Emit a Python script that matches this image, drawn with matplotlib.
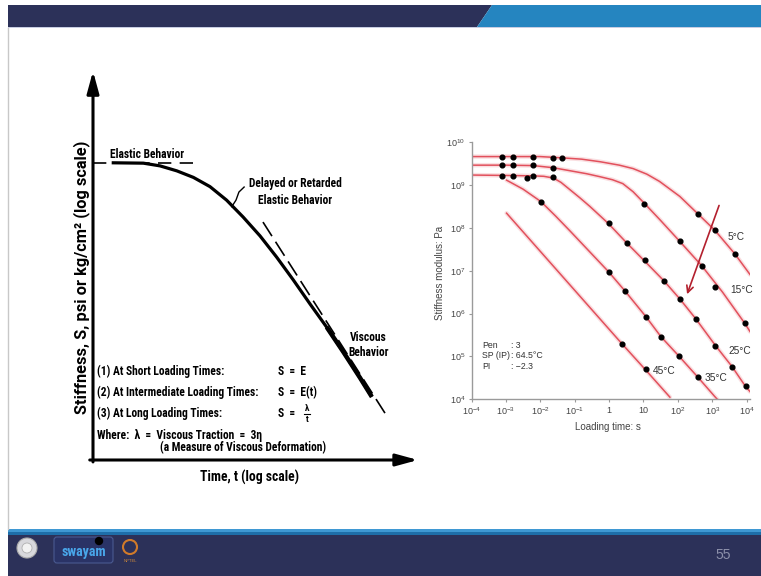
import numpy as np
import matplotlib
matplotlib.use("Agg")
import matplotlib.pyplot as plt
from matplotlib import font_manager
from matplotlib.patches import Rectangle, Polygon, Circle, FancyBboxPatch
from matplotlib.ticker import NullLocator

# ---- left schematic (arbitrary units: 0-100 on both axes) ----
curve_x = [5.75, 15.5, 20.6, 25.8, 30.9, 36.0, 41.1, 46.2, 51.4, 56.5, 61.6, 66.8, 71.9, 77.0, 82.2, 85.8]
curve_y = [77.2, 77.1, 76.4, 75.1, 73.4, 71.0, 67.5, 63.1, 58.2, 52.7, 46.8, 40.5, 34.5, 28.1, 21.3, 16.4]
elastic_x = [0, 31.9]
elastic_y = [77.2, 77.2]
viscous_x = [52.3, 90.2]
viscous_y = [61.8, 11.7]
leader_x = [42.7, 44.0, 44.9, 46.5]
leader_y = [65.8, 67.5, 69.6, 70.9]

# ---- right chart: log10(loading time s), log10(stiffness Pa) ----
curves = {
    "5": ([-4.05, -3.0, -2.0, -1.36, -0.8, -0.26, 0.3, 0.70, 1.1, 1.47, 2.06, 2.59, 3.08, 3.66, 4.10],
          [9.66, 9.66, 9.66, 9.63, 9.60, 9.54, 9.46, 9.38, 9.25, 9.08, 8.73, 8.32, 7.94, 7.39, 6.91]),
    "15": ([-4.05, -3.0, -2.2, -1.62, -0.65, -0.26, 0.1, 0.4, 0.7, 1.04, 1.5, 2.06, 2.69, 3.3, 3.95, 4.10],
           [9.46, 9.46, 9.45, 9.40, 9.26, 9.19, 9.12, 9.03, 8.84, 8.56, 8.17, 7.68, 7.12, 6.50, 5.77, 5.58]),
    "25": ([-4.05, -3.0, -2.2, -1.9, -1.62, -1.4, -1.14, -0.85, -0.56, -0.02, 0.51, 1.04, 1.60, 2.06, 2.53,
            3.08, 3.58, 3.97, 4.10],
           [9.23, 9.22, 9.21, 9.20, 9.16, 9.06, 8.89, 8.70, 8.50, 8.10, 7.65, 7.22, 6.76, 6.34, 5.87,
            5.27, 4.76, 4.30, 4.18]),
    "35": ([-2.98, -2.5, -1.98, -1.55, -1.14, -0.02, 0.46, 1.07, 1.51, 2.03, 2.59, 3.08, 3.15],
           [9.11, 8.90, 8.61, 8.27, 7.93, 6.98, 6.53, 5.93, 5.46, 5.01, 4.51, 4.06, 4.00]),
    "45": ([-2.98, 0.37, 1.07, 1.77],
           [8.34, 5.30, 4.68, 4.05]),
}
dots_t = [-3.12, -2.80, -2.20, -1.62, -1.36, 2.59, 3.08, 3.66,
          -3.12, -2.80, -2.20, -1.62, 1.02, 2.06, 2.69, 3.08, 3.95,
          -3.12, -2.80, -2.38, -2.20, -1.62, 0.01, 0.51, 1.04, 1.60, 2.06, 2.53, 3.08, 3.58, 3.97,
          -1.98, 0.0, 0.46, 1.07, 1.51, 2.03, 2.59,
          0.37, 1.07]
dots_s = [9.66, 9.66, 9.66, 9.62, 9.62, 8.32, 7.94, 7.39,
          9.46, 9.46, 9.46, 9.39, 8.55, 7.68, 7.12, 6.63, 5.77,
          9.21, 9.21, 9.15, 9.21, 9.18, 8.10, 7.65, 7.24, 6.76, 6.34, 5.87, 5.25, 4.76, 4.30,
          8.61, 6.97, 6.53, 5.93, 5.46, 5.01, 4.51,
          5.28, 4.71]
temp_labels = ["5°C", "15°C", "25°C", "35°C", "45°C"]
temp_lab_t = [3.45, 3.535, 3.465, 2.77, 1.285]
temp_lab_s = [7.79, 6.55, 5.13, 4.50, 4.67]
xtick_exp = [-4, -3, -2, -1, 0, 1, 2, 3, 4]
xtick_lab = ["$10^{-4}$", "$10^{-3}$", "$10^{-2}$", "$10^{-1}$", "1", "10", "$10^{2}$", "$10^{3}$", "$10^{4}$"]
ytick_exp = [4, 5, 6, 7, 8, 9, 10]
ytick_lab = ["$10^{%d}$" % e for e in ytick_exp]
info_keys = ["Pen", "SP (IP)", "PI"]
info_vals = [": 3", ": 64.5°C", ": \u22122.3"]

# a narrow bold face for the hand-lettered figure, if one is installed
names = {f.name for f in font_manager.fontManager.ttflist}
hand_family, k = "Roboto", 1.0
for n in ["Liberation Sans Narrow", "Roboto Condensed", "Open Sans Condensed", "Noto Sans Condensed"]:
    if n in names:
        hand_family, k = n, 1.12
        break
hand = dict(family=hand_family, weight="bold")

plt.rcParams["font.family"] = "Liberation Sans"
plt.rcParams["mathtext.fontset"] = "custom"
plt.rcParams["mathtext.rm"] = "Liberation Sans"
plt.rcParams["mathtext.it"] = "Liberation Sans:italic"
plt.rcParams["mathtext.bf"] = "Liberation Sans:bold"

W, H = 761, 576
fig = plt.figure(figsize=(W / 100, H / 100), dpi=100)

# slide background in pixel coordinates
bg = fig.add_axes([0, 0, 1, 1])
bg.set_xlim(0, W)
bg.set_ylim(H, 0)
bg.axis("off")
navy = "#2c3159"
bg.add_patch(Polygon([(8, 5), (492, 5), (477, 27), (8, 27)], closed=True, color=navy, lw=0))
bg.add_patch(Polygon([(492, 5), (W, 5), (W, 27), (477, 27)], closed=True, color="#2585c0", lw=0))
bg.add_patch(Rectangle((8, 27), W, 1.2, color="#c8cde2", lw=0))
bg.plot([8, 8], [28, 529], color="#c8c8c8", lw=1)
bg.add_patch(Rectangle((8, 529), W, 3, color="#3f98d3", lw=0))
bg.add_patch(Rectangle((8, 532), W, 3, color="#1e6ea9", lw=0))
bg.add_patch(Rectangle((8, 535), W, 41, color=navy, lw=0))
# logos (rough)
bg.add_patch(Circle((27, 548), 10, facecolor="#d8d8dc", edgecolor="#aaaaaa", lw=0.8))
bg.add_patch(Circle((27, 548), 5, facecolor="#f2f2f2", edgecolor="#b0b0b0", lw=0.6))
bg.add_patch(FancyBboxPatch((54, 537), 59, 26, boxstyle="round,pad=0,rounding_size=3",
                            facecolor="#2a3366", edgecolor="#4a5a90", lw=0.8))
bg.text(84, 552, "swayam", color="#49a6ea", fontsize=10, fontweight="bold", ha="center", va="center",
        family=hand_family)
bg.add_patch(Circle((99, 541), 3.5, color="black"))
bg.add_patch(Circle((130, 547), 7, facecolor="none", edgecolor="#d07a2a", lw=1.5))
bg.text(130, 561, "NPTEL", color="#d08a3a", fontsize=3, ha="center", va="center")
bg.text(723, 555, "55", color="#8c90aa", fontsize=10, ha="center", va="center")

# ---- left schematic ----
ax1 = fig.add_axes([93 / W, 116 / H, 325 / W, 385 / H])
ax1.set_xlim(0, 100)
ax1.set_ylim(0, 100)
ax1.axis("off")
ax1.annotate("", xy=(0, 1.01), xytext=(0, -0.005), xycoords="axes fraction",
             arrowprops=dict(arrowstyle="-|>,head_length=1.1,head_width=0.3", lw=2.2, color="black",
                             mutation_scale=12, shrinkA=0, shrinkB=0))
ax1.annotate("", xy=(1.0, 0), xytext=(-0.01, 0), xycoords="axes fraction",
             arrowprops=dict(arrowstyle="-|>,head_length=1.1,head_width=0.3", lw=2.2, color="black",
                             mutation_scale=12, shrinkA=0, shrinkB=0))
ax1.plot(curve_x, curve_y, color="black", lw=2.3, solid_capstyle="butt", solid_joinstyle="round")
ax1.plot(curve_x[12:], curve_y[12:], color="black", lw=3.2, solid_capstyle="butt", solid_joinstyle="round")
ax1.plot(elastic_x, elastic_y, color="black", lw=1.2, linestyle=(0, (8, 5)))
ax1.plot(viscous_x, viscous_y, color="black", lw=1.2, linestyle=(0, (10, 4)))
ax1.plot(leader_x, leader_y, color="black", lw=1.0)

fs = 7.4 * k
bg.text(81.7, 277, "Stiffness, S, psi or kg/cm\u00b2 (log scale)", rotation=90, ha="center", va="center",
        fontsize=11.8, family="Roboto", weight="bold")
bg.text(110, 154, "Elastic Behavior", ha="left", va="center", fontsize=fs, **hand)
bg.text(295.5, 192, "Delayed or Retarded\nElastic Behavior", ha="center", va="center", fontsize=fs,
        linespacing=1.3, **hand)
bg.text(368.5, 345, "Viscous\nBehavior", ha="center", va="center", fontsize=fs, linespacing=1.25, **hand)
bg.text(96.7, 371.7, "(1) At Short Loading Times:", ha="left", va="center", fontsize=fs, **hand)
bg.text(96.7, 392.7, "(2) At Intermediate Loading Times:", ha="left", va="center", fontsize=fs, **hand)
bg.text(96.7, 413.3, "(3) At Long Loading Times:", ha="left", va="center", fontsize=fs, **hand)
bg.text(278, 371.7, "S  =  E", ha="left", va="center", fontsize=fs, **hand)
bg.text(278, 392.7, "S  =  E(t)", ha="left", va="center", fontsize=fs, **hand)
bg.text(278, 413.3, "S  =", ha="left", va="center", fontsize=fs, **hand)
bg.text(307, 408.3, "\u03bb", ha="center", va="center", fontsize=6.5, **hand)
bg.plot([304, 310], [413.5, 413.5], color="black", lw=0.8)
bg.text(307, 419.5, "t", ha="center", va="center", fontsize=6.5, **hand)
bg.text(96.7, 435, "Where:  \u03bb  =  Viscous Traction  =  3\u03b7", ha="left", va="center", fontsize=fs, **hand)
bg.text(160, 447.7, "(a Measure of Viscous Deformation)", ha="left", va="center", fontsize=fs, **hand)
bg.text(250, 477, "Time, t (log scale)", ha="center", va="center", fontsize=8.8 * k, **hand)

# ---- right chart ----
ax2 = fig.add_axes([471.5 / W, 176.7 / H, 278.5 / W, 257.3 / H])
ax2.set_facecolor("none")
red = "#e2505c"
for key, (lt, ls) in curves.items():
    ax2.plot(10 ** np.array(lt), 10 ** np.array(ls), color=red, lw=3.2, alpha=0.18,
             solid_capstyle="round", solid_joinstyle="round")
    ax2.plot(10 ** np.array(lt), 10 ** np.array(ls), color=red, lw=1.1, solid_joinstyle="round")
ax2.plot(10 ** np.array(dots_t), 10 ** np.array(dots_s), "o", color="black", ms=3.4, ls="none")
for lab, lt, ls in zip(temp_labels, temp_lab_t, temp_lab_s):
    ax2.text(10 ** lt, 10 ** ls, lab, ha="left", va="center", fontsize=7.3, color="#333333")
ax2.annotate("", xy=(10 ** 2.27, 10 ** 6.45), xytext=(10 ** 3.20, 10 ** 8.52),
             arrowprops=dict(arrowstyle="->", color="#b3202e", lw=1.2, mutation_scale=12, shrinkA=0, shrinkB=0))
ax2.set_xscale("log")
ax2.set_yscale("log")
ax2.set_xlim(1e-4, 10 ** 4.1)
ax2.set_ylim(1e4, 1e10)
ax2.set_xticks([10.0 ** e for e in xtick_exp])
ax2.set_xticklabels(xtick_lab)
ax2.set_yticks([10.0 ** e for e in ytick_exp])
ax2.set_yticklabels(ytick_lab)
ax2.xaxis.set_minor_locator(NullLocator())
ax2.yaxis.set_minor_locator(NullLocator())
for s in ["top", "right"]:
    ax2.spines[s].set_visible(False)
for s in ["left", "bottom"]:
    ax2.spines[s].set_color("#9a9a9a")
    ax2.spines[s].set_linewidth(1.0)
ax2.tick_params(length=2.5, width=0.8, color="#9a9a9a", labelsize=6.5, labelcolor="#444444", pad=2)
ax2.text(0.49, -0.108, "Loading time: s", transform=ax2.transAxes, ha="center", va="center",
         fontsize=7, color="#444444")
ax2.text(-0.113, 0.49, "Stiffness modulus: Pa", transform=ax2.transAxes, rotation=90,
         ha="center", va="center", fontsize=7, color="#444444")
for i, (key, val) in enumerate(zip(info_keys, info_vals)):
    y = 0.211 - i * 0.041
    ax2.text(0.037, y, key, transform=ax2.transAxes, ha="left", va="center", fontsize=6.3, color="#333333")
    ax2.text(0.142, y, val, transform=ax2.transAxes, ha="left", va="center", fontsize=6.3, color="#333333")

fig.savefig("out.png", dpi=100)
